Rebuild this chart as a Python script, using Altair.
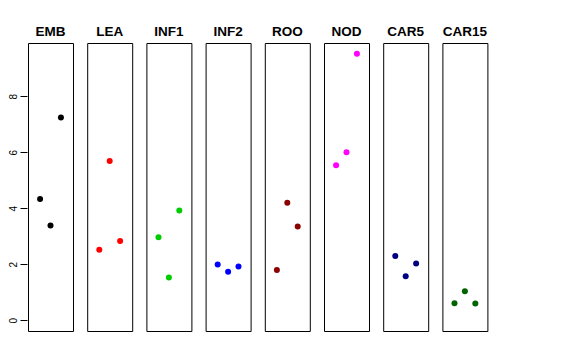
import altair as alt
import pandas as pd

tissues = ["EMB", "LEA", "INF1", "INF2", "ROO", "NOD", "CAR5", "CAR15"]
colors = ["#000000", "#FF0000", "#00CD00", "#0000FF", "#8B0000", "#FF00FF", "#000080", "#006400"]
replicate = [1, 2, 3]
values = {
    "EMB": [4.33, 3.39, 7.24],
    "LEA": [2.52, 5.69, 2.83],
    "INF1": [2.97, 1.53, 3.92],
    "INF2": [1.99, 1.73, 1.92],
    "ROO": [1.80, 4.20, 3.35],
    "NOD": [5.54, 6.00, 9.52],
    "CAR5": [2.30, 1.57, 2.03],
    "CAR15": [0.61, 1.04, 0.60],
}
y_ticks = [0, 2, 4, 6, 8]

rows = []
for t in tissues:
    for r, v in zip(replicate, values[t]):
        rows.append({"tissue": t, "rep": r, "value": v})
df = pd.DataFrame(rows)

ymax = max(max(v) for v in values.values())
ext = 0.04 * ymax

chart = alt.Chart(df).mark_circle(size=36, opacity=1).encode(
    x=alt.X("rep:Q", scale=alt.Scale(domain=[-0.16, 4.16], nice=False, zero=False), axis=None),
    y=alt.Y("value:Q", scale=alt.Scale(domain=[-ext, ymax + ext], nice=False, zero=False),
            axis=alt.Axis(values=y_ticks, title=None, grid=False, domain=False, tickSize=7,
                          tickColor="black", labelAngle=270, labelFontSize=10, labelColor="black",
                          labelFont="Liberation Sans", labelPadding=2)),
    color=alt.Color("tissue:N", scale=alt.Scale(domain=tissues, range=colors), legend=None),
).properties(width=45, height=288).facet(
    column=alt.Column("tissue:N", sort=tissues,
                      header=alt.Header(title=None, labelFontWeight="bold", labelFontSize=13.5,
                                        labelFont="Liberation Sans", labelColor="black", labelPadding=4)),
    spacing=12.2,
).configure_view(stroke="black", strokeWidth=1).properties(
    padding={"left": 0, "top": 16, "right": 5, "bottom": 5},
    background="white",
)

chart.save("out.html", embed_options={"renderer": "svg", "actions": False})
